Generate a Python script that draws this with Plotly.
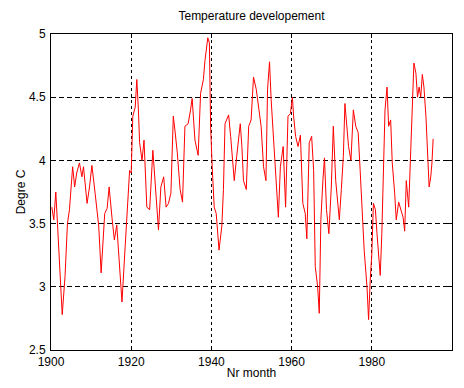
import plotly.graph_objects as go

# Temperature record (year, degrees C)
years = [1900.2, 1900.7, 1901.2, 1901.8, 1902.2, 1902.8, 1903.5, 1904.1, 1904.6, 1905.4,
         1905.9, 1906.4, 1907.1, 1907.7, 1908.1, 1909.0, 1909.6, 1910.2, 1911.0, 1911.9,
         1912.5, 1913.4, 1914.0, 1914.5, 1915.2, 1915.8, 1916.4, 1917.0, 1917.7, 1918.5,
         1919.1, 1919.6, 1920.0, 1920.4, 1921.0, 1921.4, 1921.8, 1922.1, 1922.7, 1923.2,
         1923.9, 1924.6, 1925.4, 1926.0, 1926.8, 1927.4, 1928.1, 1928.7, 1929.3, 1929.9,
         1930.5, 1930.9, 1931.5, 1932.2, 1932.8, 1933.4, 1934.2, 1934.8, 1935.2, 1935.9,
         1936.7, 1937.3, 1938.0, 1938.4, 1939.1, 1939.5, 1939.8, 1940.2, 1940.7, 1941.2,
         1941.9, 1942.6, 1943.0, 1943.4, 1944.3, 1944.8, 1945.7, 1946.3, 1947.2, 1947.6,
         1948.0, 1948.7, 1949.3, 1949.9, 1950.5, 1951.2, 1951.8, 1952.4, 1953.0, 1953.6,
         1954.0, 1954.5, 1954.9, 1955.5, 1956.2, 1956.7, 1957.2, 1957.9, 1958.5, 1959.1,
         1959.7, 1960.2, 1960.5, 1961.0, 1961.6, 1962.2, 1962.8, 1963.4, 1963.8, 1964.4,
         1965.0, 1965.5, 1965.9, 1966.5, 1966.9, 1967.3, 1967.8, 1968.2, 1968.7, 1969.3,
         1969.9, 1970.4, 1971.0, 1971.4, 1971.9, 1972.4, 1972.9, 1973.3, 1973.7, 1974.2,
         1974.8, 1975.4, 1976.0, 1976.6, 1977.1, 1977.7, 1978.1, 1978.8, 1979.2, 1979.6,
         1980.0, 1980.4, 1980.9, 1981.3, 1981.7, 1982.1, 1982.5, 1982.9, 1983.3, 1983.8,
         1984.2, 1984.7, 1985.1, 1985.7, 1986.1, 1986.7, 1987.2, 1987.8, 1988.2, 1988.6,
         1989.2, 1989.7, 1990.1, 1990.5, 1991.0, 1991.4, 1991.8, 1992.2, 1992.6, 1993.0,
         1993.5, 1993.9, 1994.3, 1994.7, 1995.0, 1995.3]
temps = [3.63, 3.53, 3.75, 3.40, 3.16, 2.78, 3.08, 3.50, 3.61, 3.95,
         3.79, 3.90, 3.98, 3.87, 3.95, 3.66, 3.79, 3.96, 3.74, 3.48,
         3.11, 3.58, 3.62, 3.79, 3.55, 3.37, 3.49, 3.21, 2.88, 3.32,
         3.69, 3.92, 3.90, 4.35, 4.42, 4.64, 4.40, 4.14, 4.00, 4.16,
         3.63, 3.61, 4.08, 3.82, 3.45, 3.79, 3.87, 3.63, 3.66, 3.74,
         4.35, 4.24, 4.06, 3.77, 3.67, 4.27, 4.29, 4.40, 4.49, 4.16,
         4.04, 4.53, 4.64, 4.79, 4.97, 4.93, 4.27, 3.95, 3.63, 3.58,
         3.29, 3.48, 3.77, 4.29, 4.36, 4.19, 3.84, 4.03, 4.29, 4.11,
         3.84, 3.77, 4.27, 4.32, 4.66, 4.56, 4.40, 4.27, 3.95, 3.84,
         4.56, 4.78, 4.48, 4.14, 3.84, 3.55, 3.95, 4.11, 3.63, 4.35,
         4.37, 4.50, 4.35, 4.19, 4.11, 4.20, 3.66, 3.58, 3.38, 4.14,
         4.19, 3.92, 3.16, 3.00, 2.79, 3.53, 3.84, 4.02, 3.61, 3.42,
         3.79, 4.27, 3.84, 3.69, 3.53, 3.77, 4.03, 4.45, 4.27, 4.11,
         4.00, 4.40, 4.27, 4.22, 3.92, 3.50, 3.29, 3.00, 2.74, 3.05,
         3.26, 3.66, 3.61, 3.42, 3.21, 3.09, 3.42, 3.92, 4.40, 4.58,
         4.27, 4.32, 3.98, 3.74, 3.53, 3.67, 3.61, 3.55, 3.44, 3.84,
         3.63, 4.03, 4.45, 4.77, 4.69, 4.50, 4.58, 4.50, 4.68, 4.58,
         4.35, 4.08, 3.79, 3.87, 3.98, 4.17]

x_ticks = [1900, 1920, 1940, 1960, 1980, 2000]
y_ticks = [2.5, 3, 3.5, 4, 4.5, 5]
y_tick_text = ["2.5", "3", "3.5", "4", "4.5", "5"]

FONT = dict(family="Liberation Sans, Arial", size=12, color="black")

fig = go.Figure()
fig.add_trace(go.Scatter(x=years, y=temps, mode="lines",
                         line=dict(color="#ff0000", width=1), showlegend=False))

axis_common = dict(
    showline=True, linecolor="black", linewidth=1, mirror="ticks",
    ticks="inside", ticklen=4, tickcolor="black",
    showgrid=True, gridcolor="black", gridwidth=1,
    zeroline=False, tickfont=FONT, automargin=False,
)

fig.update_xaxes(range=[1900, 2000], tickvals=x_ticks, griddash="3px,3px",
                 ticklabelstandoff=1,
                 title=dict(text="Nr month", font=FONT, standoff=0),
                 **axis_common)
fig.update_yaxes(range=[2.5, 5], tickvals=y_ticks, ticktext=y_tick_text,
                 griddash="5px,3px", ticklabelstandoff=2,
                 title=dict(text="Degre C", font=FONT, standoff=0),
                 **axis_common)

fig.update_layout(
    width=464, height=388,
    margin=dict(l=51, r=12, t=34, b=38),
    paper_bgcolor="white", plot_bgcolor="white",
    title=dict(text="Temperature developement", x=0.5, xanchor="center",
               xref="paper", y=1, yref="container", yanchor="top", pad=dict(t=12),
               font=FONT),
)

fig.write_html("out.html")
